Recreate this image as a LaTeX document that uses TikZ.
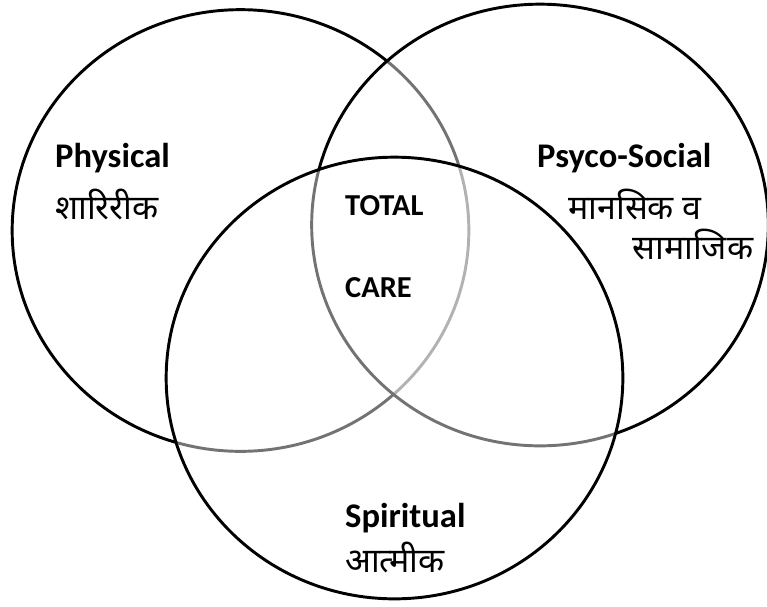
\documentclass[tikz,border=0pt]{standalone}
\usepackage{fontspec}
\setmainfont{Carlito}
\newfontfamily\devfont[Script=Devanagari]{Noto Sans}
\usetikzlibrary{shapes.geometric}
\tikzstyle{ring} = [ellipse, draw=black, line width=2.5pt, minimum width=13.7cm, minimum height=13.25cm, inner sep=0pt]
\tikzstyle{veil} = [fill=white, fill opacity=0.45]
\tikzstyle{head} = [font=\fontsize{29.5}{32}\selectfont\bfseries, inner sep=0pt, anchor=base west]
\tikzstyle{hindi} = [font=\devfont\fontsize{29}{32}\selectfont, inner sep=0pt, anchor=base west]
\tikzstyle{core} = [font=\fontsize{26}{28}\selectfont\bfseries, inner sep=0pt, anchor=base west]

\begin{document}
\begin{tikzpicture}[x=0.03cm, y=-0.03cm]
        \useasboundingbox (0,0) rectangle (767,606);
        % the three circles
        \node[ring] (body) at (240.5,230.5) {};
        \node[ring, veil] (mind) at (540,225) {};
        \node[ring, veil] (soul) at (394.5,378) {};
        % labels
        \node[head] (physical) at (55,167) {Physical};
        \node[hindi] (sharirik) at (55,219) {शारिरीक};
        \node[head] (psyco) at (537,167) {Psyco-Social};
        \node[hindi] (mansik) at (568,219) {मानसिक व};
        \node[hindi] (samajik) at (632,259) {सामाजिक};
        \node[core] (total) at (345,215) {TOTAL};
        \node[core] (care) at (345,297) {CARE};
        \node[head] (spiritual) at (345,527) {Spiritual};
        \node[hindi] (atmik) at (345,572) {आत्मीक};
    \end{tikzpicture}
\end{document}
